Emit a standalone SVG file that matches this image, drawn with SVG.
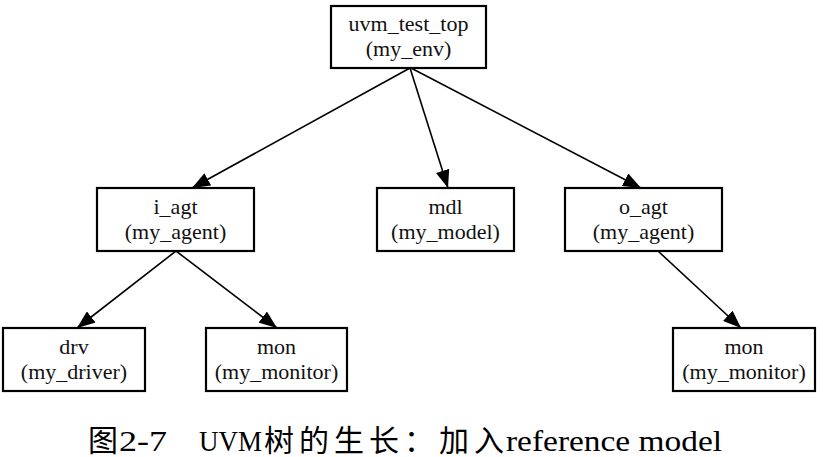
<svg xmlns="http://www.w3.org/2000/svg" width="823" height="457" viewBox="0 0 823 457">
<defs>
<style>
.box{fill:#fff;stroke:#000;stroke-width:2.2}
.lbl{font-family:"Liberation Serif","Times New Roman",serif;font-size:22px;fill:#111;text-anchor:middle}
.edge{stroke:#000;stroke-width:1.6;fill:none}
.cap{font-family:"Liberation Serif","Noto Sans CJK SC",serif;font-size:30px;fill:#000}
</style>
<marker id="ah" markerUnits="userSpaceOnUse" markerWidth="20" markerHeight="14" refX="18" refY="7" orient="auto">
<path d="M0,0 L18,7 L0,14 Z" fill="#000"/>
</marker>
</defs>
<rect width="823" height="457" fill="#fff"/>
<g id="edges">
<line class="edge" x1="410" y1="68" x2="192" y2="188" marker-end="url(#ah)"/>
<line class="edge" x1="410" y1="68" x2="448" y2="188" marker-end="url(#ah)"/>
<line class="edge" x1="411" y1="68" x2="641" y2="188" marker-end="url(#ah)"/>
<line class="edge" x1="176" y1="251" x2="77" y2="328" marker-end="url(#ah)"/>
<line class="edge" x1="176" y1="251" x2="277" y2="328" marker-end="url(#ah)"/>
<line class="edge" x1="658" y1="251" x2="741" y2="328" marker-end="url(#ah)"/>
</g>
<g id="uvm_test_top">
<rect class="box" x="331" y="6" width="155" height="62"/>
<text class="lbl" x="408.5" y="31">uvm_test_top</text>
<text class="lbl" x="408.5" y="56">(my_env)</text>
</g>
<g id="i_agt">
<rect class="box" x="97" y="188" width="157" height="63"/>
<text class="lbl" x="175.5" y="214">i_agt</text>
<text class="lbl" x="175.5" y="239">(my_agent)</text>
</g>
<g id="mdl">
<rect class="box" x="377" y="188" width="137" height="63"/>
<text class="lbl" x="445.5" y="214">mdl</text>
<text class="lbl" x="445.5" y="239">(my_model)</text>
</g>
<g id="o_agt">
<rect class="box" x="565" y="188" width="157" height="63"/>
<text class="lbl" x="643.5" y="214">o_agt</text>
<text class="lbl" x="643.5" y="239">(my_agent)</text>
</g>
<g id="drv">
<rect class="box" x="3" y="328" width="142" height="63"/>
<text class="lbl" x="74" y="354">drv</text>
<text class="lbl" x="74" y="379">(my_driver)</text>
</g>
<g id="mon_i">
<rect class="box" x="206" y="328" width="141" height="63"/>
<text class="lbl" x="276.5" y="354">mon</text>
<text class="lbl" x="276.5" y="379">(my_monitor)</text>
</g>
<g id="mon_o">
<rect class="box" x="673" y="328" width="142" height="63"/>
<text class="lbl" x="744" y="354">mon</text>
<text class="lbl" x="744" y="379">(my_monitor)</text>
</g>
<g id="caption">
<text class="cap" x="88" y="451">图</text>
<text class="cap" x="119" y="451" textLength="48" lengthAdjust="spacingAndGlyphs">2-7</text>
<text class="cap" x="199" y="451" textLength="63" lengthAdjust="spacingAndGlyphs">UVM</text>
<text class="cap" x="264" y="451" textLength="240" lengthAdjust="spacing">树的生长：加入</text>
<text class="cap" x="506" y="451" textLength="216" lengthAdjust="spacingAndGlyphs">reference model</text>
</g>
</svg>
